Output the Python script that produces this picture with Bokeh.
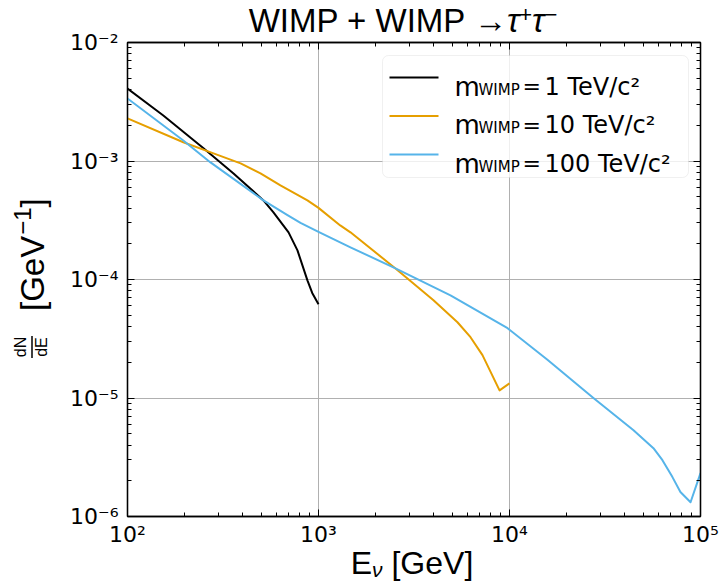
from bokeh.plotting import figure
from bokeh.layouts import column, row
from bokeh.models import (Range1d, FixedTicker, LogAxis, CustomJSTickFormatter,
                          Label, BoxAnnotation, Div)
from bokeh.embed import file_html
from bokeh.resources import INLINE

# ---------------- data ----------------
x_ticks = [1e2, 1e3, 1e4, 1e5]
y_ticks = [1e-6, 1e-5, 1e-4, 1e-3, 1e-2]

e_1tev = [100, 154, 250, 359, 515, 581, 697, 776, 875, 927, 1000]
dnde_1tev = [4.09e-3, 2.42e-3, 1.28e-3, 7.86e-4, 4.65e-4, 3.69e-4, 2.50e-4,
             1.76e-4, 9.84e-5, 7.7e-5, 6.18e-5]

e_10tev = [100, 196, 282, 391, 497, 632, 875, 1000, 1300, 1470, 2530, 4000,
           5340, 6250, 7220, 8870, 10000]
dnde_10tev = [2.29e-3, 1.44e-3, 1.16e-3, 9.55e-4, 7.86e-4, 6.23e-4, 4.65e-4,
              4.02e-4, 2.86e-4, 2.50e-4, 1.24e-4, 6.68e-5, 4.36e-5, 3.26e-5,
              2.30e-5, 1.16e-5, 1.33e-5]

e_100tev = [100, 196, 272, 515, 688, 805, 1000, 1470, 2530, 4910, 9770, 15800,
            27500, 44600, 56700, 63200, 71300, 78500, 88700, 100000]
dnde_100tev = [3.37e-3, 1.49e-3, 9.73e-4, 4.65e-4, 3.50e-4, 3.0e-4, 2.52e-4,
               1.87e-4, 1.24e-4, 7.36e-5, 3.88e-5, 2.10e-5, 1.0e-5, 5.35e-6,
               3.77e-6, 2.99e-6, 2.15e-6, 1.61e-6, 1.32e-6, 2.32e-6]

series_values = ["1 TeV/c²", "10 TeV/c²", "100 TeV/c²"]
series_colors = ["#000000", "#E69F00", "#56B4E9"]

title_text = "WIMP + WIMP →"
xlabel_text = ("E", "ν", "[GeV]")
ylabel_text = ("dN", "dE", "[GeV", "−1", "]")

# ---------------- figure ----------------
FONT = "DejaVu Sans"
FX0, FY0 = 127, 516   # page position of the frame's bottom-left corner

p = figure(x_axis_type="log", y_axis_type="log",
           x_range=Range1d(1e2, 1e5), y_range=Range1d(1e-6, 1e-2),
           frame_width=573, frame_height=474,
           min_border_left=67, min_border_right=21,
           min_border_top=14, min_border_bottom=34,
           output_backend="svg", toolbar_location=None,
           background_fill_color="white", border_fill_color="white",
           margin=0)
p.border_fill_alpha = 0
p.outline_line_color = "black"
p.outline_line_width = 1.3

x_minor = [m * 10.0 ** e for e in range(2, 5) for m in range(2, 10)]
y_minor = [m * 10.0 ** e for e in range(-6, -2) for m in range(2, 10)]

sup_code = """
const e = Math.round(Math.log10(tick));
const m = {"-":"⁻","0":"⁰","1":"¹","2":"²","3":"³","4":"⁴","5":"⁵","6":"⁶","7":"⁷","8":"⁸","9":"⁹"};
let s = "";
for (const c of String(e)) { s += m[c]; }
return "10" + s;
"""

def style_axis(ax, show_labels=True):
    ax.major_tick_in = 7
    ax.major_tick_out = 0
    ax.minor_tick_in = 4
    ax.minor_tick_out = 0
    ax.axis_line_color = "black"
    ax.axis_line_width = 1.3
    ax.major_tick_line_color = "black"
    ax.minor_tick_line_color = "black"
    ax.major_tick_line_width = 1
    ax.minor_tick_line_width = 1
    ax.axis_label = None
    if show_labels:
        ax.major_label_text_font = FONT
        ax.major_label_text_font_size = "22px"
        ax.major_label_text_color = "black"
    else:
        ax.major_label_text_font_size = "0px"
        ax.major_label_standoff = 0

p.xaxis.ticker = FixedTicker(ticks=x_ticks, minor_ticks=x_minor)
p.yaxis.ticker = FixedTicker(ticks=y_ticks, minor_ticks=y_minor)
p.xaxis.formatter = CustomJSTickFormatter(code=sup_code)
p.yaxis.formatter = CustomJSTickFormatter(code=sup_code)
style_axis(p.xaxis[0])
style_axis(p.yaxis[0])
p.xaxis.major_label_standoff = 5
p.yaxis.major_label_standoff = 9

top = LogAxis(ticker=FixedTicker(ticks=x_ticks, minor_ticks=x_minor),
              formatter=CustomJSTickFormatter(code="return '';"))
right = LogAxis(ticker=FixedTicker(ticks=y_ticks, minor_ticks=y_minor),
                formatter=CustomJSTickFormatter(code="return '';"))
style_axis(top, False)
style_axis(right, False)
p.add_layout(top, "above")
p.add_layout(right, "right")

p.xgrid.grid_line_color = "#b0b0b0"
p.ygrid.grid_line_color = "#b0b0b0"
p.xgrid.grid_line_width = 1
p.ygrid.grid_line_width = 1

# ---------------- curves ----------------
for xs, ys, c in [(e_1tev, dnde_1tev, series_colors[0]),
                  (e_10tev, dnde_10tev, series_colors[1]),
                  (e_100tev, dnde_100tev, series_colors[2])]:
    p.line(xs, ys, line_color=c, line_width=2, line_join="round")

# ---------------- legend (inside the frame, page pixel positions) ----------------
def lab(text, px, py, size, align="left", style="normal"):
    p.add_layout(Label(x=px - FX0, y=FY0 - py, x_units="screen", y_units="screen",
                       text=text, text_font=FONT, text_font_size=f"{size}px",
                       text_align=align, text_baseline="alphabetic",
                       text_font_style=style, text_color="black"))

def box(left, right_, top_, bottom, **kw):
    p.add_layout(BoxAnnotation(left=left - FX0, right=right_ - FX0,
                               top=FY0 - top_, bottom=FY0 - bottom,
                               left_units="screen", right_units="screen",
                               top_units="screen", bottom_units="screen", **kw))

box(382, 688, 55, 177, fill_color="white", fill_alpha=0.8,
    line_color="#cccccc", line_width=1, border_radius=6)
row_y = [77, 115.5, 154]
for i in range(3):
    yy = row_y[i]
    box(389, 438, yy - 1, yy + 1, fill_color=series_colors[i], fill_alpha=1,
        line_alpha=0)
    lab("m", 454, yy + 9, 26)
    lab("WIMP", 478, yy + 12, 15)
    lab("=", 522, yy + 9, 22)
    lab(series_values[i], 544, yy + 9, 24)

# ---------------- title and axis labels as real SVG text in Divs ----------------
title_html = (
    '<svg width="721" height="42" style="display:block;overflow:visible">'
    f'<text x="403" y="32" text-anchor="middle" font-family="{FONT}" font-size="33" fill="black">'
    f'{title_text}<tspan font-style="italic">τ</tspan>'
    '<tspan font-size="22" dy="-10">+</tspan>'
    '<tspan font-style="italic" dy="10">τ</tspan>'
    '<tspan font-size="22" dy="-10">−</tspan></text></svg>'
)
# this svg starts 12 px above its div (page y 538) so the tall glyphs fit inside it
xlabel_html = (
    '<svg width="721" height="45" style="display:block;margin-top:-12px;overflow:visible">'
    f'<text x="412" y="36" text-anchor="middle" font-family="{FONT}" font-size="32" fill="black">'
    f'{xlabel_text[0]}<tspan font-size="21" font-style="italic" dy="2.5">{xlabel_text[1]}</tspan>'
    f'<tspan dy="-2.5"> {xlabel_text[2]}</tspan></text></svg>'
)
ylabel_html = (
    '<svg width="60" height="522" style="display:block">'
    f'<g transform="translate(44,330) rotate(-90)" font-family="{FONT}" fill="black">'
    f'<text x="11" y="-18" font-size="16" text-anchor="middle">{ylabel_text[0]}</text>'
    '<rect x="0" y="-12.75" width="22" height="1.5" fill="black"/>'
    f'<text x="11" y="3" font-size="16" text-anchor="middle">{ylabel_text[1]}</text>'
    f'<text x="47" y="0" font-size="33">{ylabel_text[2]}'
    f'<tspan font-size="24" dx="1" dy="-13">{ylabel_text[3]}</tspan>'
    f'<tspan dy="13">{ylabel_text[4]}</tspan></text>'
    '</g></svg>'
)

title_div = Div(text=title_html, width=721, height=28, margin=0,
                styles={"overflow": "visible"})
ylabel_div = Div(text=ylabel_html, width=60, height=522, margin=0)
xlabel_div = Div(text=xlabel_html, width=721, height=33, margin=0,
                 styles={"overflow": "visible"})

layout = column(title_div, row(ylabel_div, p, spacing=0, margin=0), xlabel_div,
                spacing=0, margin=0)

open("out.html", "w").write(file_html(layout, INLINE))
